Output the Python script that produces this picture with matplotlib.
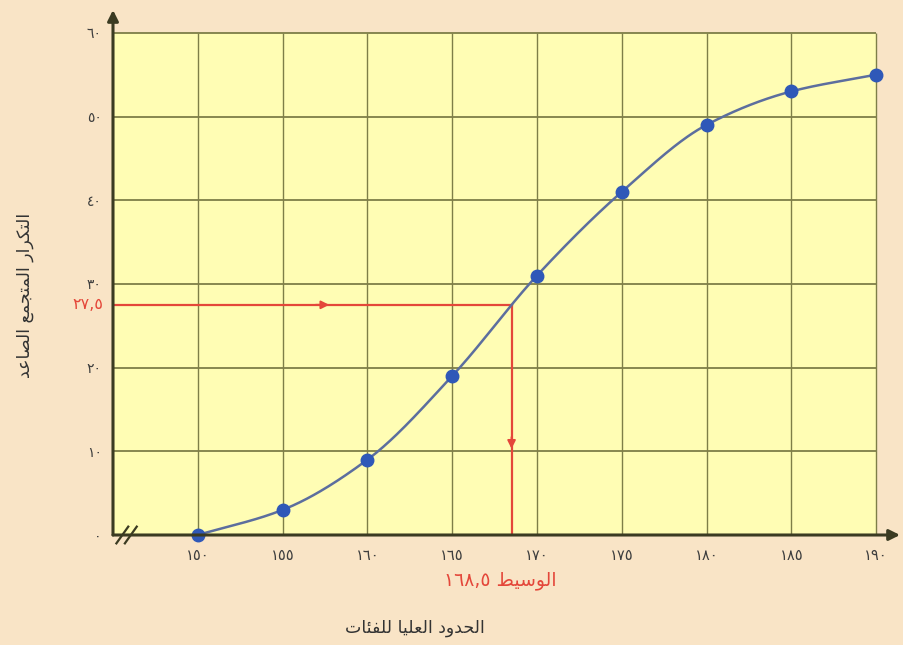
import numpy as np
import matplotlib
matplotlib.use("Agg")
import matplotlib.pyplot as plt
from matplotlib.patches import Rectangle

# ---------------- data ----------------
upper_bounds = [150, 155, 160, 165, 170, 175, 180, 185, 190]
cum_freq = [0, 3, 9, 19, 31, 41, 49, 53, 55]
x_tick_values = [150, 155, 160, 165, 170, 175, 180, 185, 190]
x_tick_labels = ["١٥٠", "١٥٥", "١٦٠", "١٦٥", "١٧٠", "١٧٥", "١٨٠", "١٨٥", "١٩٠"]
y_tick_values = [0, 10, 20, 30, 40, 50, 60]
y_tick_labels = ["٠", "١٠", "٢٠", "٣٠", "٤٠", "٥٠", "٦٠"]
median_rank = 27.5
median_value = 168.5
median_rank_label = "٢٧,٥"
median_value_label = "١٦٨,٥"
median_word = "الوسيط"
x_title = "الحدود العليا للفئات"
y_title = "التكرار المتجمع الصاعد"

# ---------------- simple Arabic shaping (presentation forms) ----------------
FORMS = {  # isolated, final, initial, medial
    'ا': ('\uFE8D', '\uFE8E', None, None),
    'ت': ('\uFE95', '\uFE96', '\uFE97', '\uFE98'),
    'ث': ('\uFE99', '\uFE9A', '\uFE9B', '\uFE9C'),
    'ج': ('\uFE9D', '\uFE9E', '\uFE9F', '\uFEA0'),
    'ح': ('\uFEA1', '\uFEA2', '\uFEA3', '\uFEA4'),
    'د': ('\uFEA9', '\uFEAA', None, None),
    'ر': ('\uFEAD', '\uFEAE', None, None),
    'س': ('\uFEB1', '\uFEB2', '\uFEB3', '\uFEB4'),
    'ص': ('\uFEB9', '\uFEBA', '\uFEBB', '\uFEBC'),
    'ط': ('\uFEC1', '\uFEC2', '\uFEC3', '\uFEC4'),
    'ع': ('\uFEC9', '\uFECA', '\uFECB', '\uFECC'),
    'ف': ('\uFED1', '\uFED2', '\uFED3', '\uFED4'),
    'ك': ('\uFED9', '\uFEDA', '\uFEDB', '\uFEDC'),
    'ل': ('\uFEDD', '\uFEDE', '\uFEDF', '\uFEE0'),
    'م': ('\uFEE1', '\uFEE2', '\uFEE3', '\uFEE4'),
    'ه': ('\uFEE9', '\uFEEA', '\uFEEB', '\uFEEC'),
    'و': ('\uFEED', '\uFEEE', None, None),
    'ي': ('\uFEF1', '\uFEF2', '\uFEF3', '\uFEF4'),
    'ئ': ('\uFE89', '\uFE8A', '\uFE8B', '\uFE8C'),
}


def shape(text):
    chars = list(text)
    out = []
    i = 0
    n = len(chars)
    while i < n:
        c = chars[i]
        if c not in FORMS:
            out.append(c)
            i += 1
            continue
        prev = chars[i - 1] if i > 0 else None
        prev_join = prev in FORMS and FORMS[prev][2] is not None
        if c == 'ل' and i + 1 < n and chars[i + 1] == 'ا':
            out.append('\uFEFC' if prev_join else '\uFEFB')
            i += 2
            continue
        nxt = chars[i + 1] if i + 1 < n else None
        next_join = FORMS[c][2] is not None and nxt in FORMS
        iso, fin, ini, med = FORMS[c]
        if prev_join and next_join:
            out.append(med)
        elif prev_join:
            out.append(fin)
        elif next_join:
            out.append(ini)
        else:
            out.append(iso)
        i += 1
    return ''.join(out)


def visual(text):
    return shape(text)[::-1]


# ---------------- styling ----------------
plt.rcParams['font.family'] = ['DejaVu Sans']
BG = '#F9E4C6'
PLOT_BG = '#FFFDB4'
GRID = '#7E7E48'
AXIS = '#3B3B22'
RED = '#E4473A'
LINE = '#5C6E9E'
MARK = '#2F58B8'
TXT = '#3E3E3E'

fig = plt.figure(figsize=(9.04, 6.45), dpi=100, facecolor=BG)
ax = fig.add_axes([113 / 904, 1 - 535 / 645, (900 - 113) / 904, (535 - 10) / 645])
ax.set_facecolor(BG)
xmin, xmax = 145, 145 + (900 - 113) / 16.96
ymin, ymax = 0, (535 - 10) / 8.37
ax.set_xlim(xmin, xmax)
ax.set_ylim(ymin, ymax)
for s in ax.spines.values():
    s.set_visible(False)

# yellow plotting area
ax.add_patch(Rectangle((145, 0), 190 - 145, 60, facecolor=PLOT_BG, edgecolor='none', zorder=0))

# grid
ax.vlines(x_tick_values, 0, 60, colors=GRID, lw=1.0, zorder=1)
ax.hlines(y_tick_values[1:], 145, 190, colors=GRID, lw=1.3, zorder=1)

# axes with arrows
ax.annotate('', xy=(xmax, 0), xytext=(145, 0),
            arrowprops=dict(arrowstyle='-|>', color=AXIS, lw=2.2, mutation_scale=16,
                            shrinkA=0, shrinkB=0), annotation_clip=False, zorder=5)
ax.annotate('', xy=(145, ymax), xytext=(145, 0),
            arrowprops=dict(arrowstyle='-|>', color=AXIS, lw=2.2, mutation_scale=16,
                            shrinkA=0, shrinkB=0), annotation_clip=False, zorder=5)

# axis break mark
for dx in (0.55, 1.05):
    ax.plot([145 + dx - 0.35, 145 + dx + 0.35], [-1.0, 1.0], color=AXIS, lw=1.6,
            clip_on=False, zorder=6)

# ticks
ax.set_xticks(x_tick_values)
ax.set_xticklabels(x_tick_labels, fontsize=10.5, color=TXT)
ax.set_yticks(y_tick_values)
ax.set_yticklabels(y_tick_labels, fontsize=10, color=TXT)
ax.tick_params(axis='both', length=0)
ax.tick_params(axis='x', pad=9)
ax.tick_params(axis='y', pad=8)


# smooth curve (monotone cubic through the points)
def pchip(x, y, xs):
    x = np.asarray(x, float)
    y = np.asarray(y, float)
    h = np.diff(x)
    d = np.diff(y) / h
    m = np.zeros_like(y)
    for k in range(1, len(x) - 1):
        if d[k - 1] * d[k] > 0:
            w1 = 2 * h[k] + h[k - 1]
            w2 = h[k] + 2 * h[k - 1]
            m[k] = (w1 + w2) / (w1 / d[k - 1] + w2 / d[k])
    m[0] = d[0]
    m[-1] = d[-1]
    out = np.empty_like(xs)
    for j, xv in enumerate(xs):
        k = min(np.searchsorted(x, xv, side='right') - 1, len(x) - 2)
        t = (xv - x[k]) / h[k]
        h00 = 2 * t**3 - 3 * t**2 + 1
        h10 = t**3 - 2 * t**2 + t
        h01 = -2 * t**3 + 3 * t**2
        h11 = t**3 - t**2
        out[j] = h00 * y[k] + h10 * h[k] * m[k] + h01 * y[k + 1] + h11 * h[k] * m[k + 1]
    return out


xs = np.linspace(upper_bounds[0], upper_bounds[-1], 400)
ax.plot(xs, pchip(upper_bounds, cum_freq, xs), color=LINE, lw=1.8, zorder=3)
ax.plot(upper_bounds, cum_freq, 'o', color=MARK, ms=9, zorder=4, clip_on=False)

# median construction
ax.plot([145, median_value], [median_rank, median_rank], color=RED, lw=1.6, zorder=2)
ax.plot([median_value, median_value], [median_rank, 0], color=RED, lw=1.6, zorder=2)
hx = (145 + median_value) / 2 + 0.6
ax.annotate('', xy=(hx + 0.4, median_rank), xytext=(hx - 0.4, median_rank),
            arrowprops=dict(arrowstyle='-|>', color=RED, lw=1.4, mutation_scale=12,
                            shrinkA=0, shrinkB=0), zorder=3)
vy = median_rank * 0.4
ax.annotate('', xy=(median_value, vy - 0.7), xytext=(median_value, vy + 0.7),
            arrowprops=dict(arrowstyle='-|>', color=RED, lw=1.4, mutation_scale=12,
                            shrinkA=0, shrinkB=0), zorder=3)
ax.text(144.4, median_rank, median_rank_label, color=RED, fontsize=11.5,
        ha='right', va='center')

fig.text(500 / 904, 1 - 580 / 645, median_value_label + ' ' + visual(median_word),
         color=RED, fontsize=13.5, ha='center', va='center')

# axis titles
fig.text(415 / 904, 1 - 628 / 645, visual(x_title), color='#333333', fontsize=12.5,
         ha='center', va='center')
fig.text(25 / 904, 1 - 295 / 645, visual(y_title), color='#333333', fontsize=12.5,
         ha='center', va='center', rotation=90)

fig.savefig('out.png', dpi=100, facecolor=BG)
